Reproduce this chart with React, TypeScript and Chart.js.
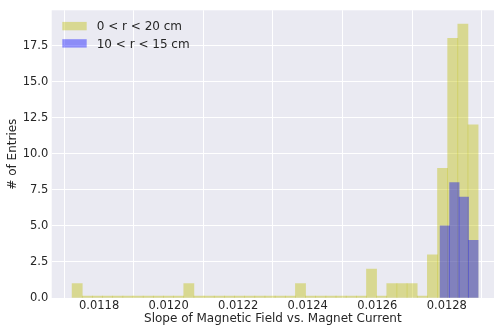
import { useEffect, useRef } from "react";
import { Chart, registerables } from "chart.js";

Chart.register(...registerables);

// Fitted slope of B vs. magnet current, histogrammed for two radial selections.
const wideLabel = "0 < r < 20 cm";
const wideBinStart = 0.0117224;
const wideBinWidth = 0.00002919;
const wideCounts = [
  1, 0, 0, 0, 0, 0, 0, 0, 0, 0,
  0, 1, 0, 0, 0, 0, 0, 0, 0, 0,
  0, 0, 1, 0, 0, 0, 0, 0, 0, 2,
  0, 1, 1, 1, 0, 3, 9, 18, 19, 12,
];

const narrowLabel = "10 < r < 15 cm";
const narrowBinStart = 0.0127807;
const narrowBinWidth = 0.00002732;
const narrowCounts = [5, 8, 7, 4];

const xTicks = [0.0118, 0.012, 0.0122, 0.0124, 0.0126, 0.0128];
const yTicks = [0, 2.5, 5, 7.5, 10, 12.5, 15, 17.5];

const xMin = 0.0116637;
const xMax = 0.0129357;
const yMax = 19.95;

const xTitle = "Slope of Magnetic Field vs. Magnet Current";
const yTitle = "# of Entries";

const TEXT = "#262626";
const FONT = "'DejaVu Sans', sans-serif";
const WIDE_FILL = "rgba(191, 191, 0, 0.4)";
const NARROW_FILL = "rgba(0, 0, 255, 0.4)";

const toBars = (start: number, width: number, counts: number[]) =>
  counts.map((c, i) => ({ x: start + (i + 0.5) * width, y: c }));

const plotBackground = {
  id: "plotBackground",
  beforeDraw(chart: any) {
    const { ctx, chartArea } = chart;
    ctx.save();
    ctx.fillStyle = "#EAEAF2";
    ctx.fillRect(chartArea.left, chartArea.top, chartArea.width, chartArea.height);
    ctx.restore();
  },
};

// Legend in the upper-left corner of the plot area
const insetLegend = {
  id: "insetLegend",
  afterDraw(chart: any) {
    const { ctx, chartArea } = chart;
    const x0 = chartArea.left + 10.6;
    const y0 = chartArea.top + 11.6;
    ctx.save();
    ctx.font = `12px ${FONT}`;
    ctx.textBaseline = "alphabetic";
    ctx.textAlign = "left";
    chart.data.datasets.forEach((ds: any, i: number) => {
      const top = y0 + i * 17.3;
      ctx.fillStyle = ds.backgroundColor;
      ctx.fillRect(x0, top, 24.4, 8.4);
      ctx.fillStyle = TEXT;
      ctx.fillText(ds.label, x0 + 34.4, top + 8.4);
    });
    ctx.restore();
  },
};

export default function App() {
  const canvasRef = useRef<HTMLCanvasElement | null>(null);

  useEffect(() => {
    const canvas = canvasRef.current;
    if (!canvas) return;
    const chart = new Chart(canvas, {
      type: "bar",
      data: {
        datasets: [
          {
            label: wideLabel,
            data: toBars(wideBinStart, wideBinWidth, wideCounts),
            backgroundColor: WIDE_FILL,
            borderWidth: 0,
            barPercentage: 1,
            categoryPercentage: 1,
            minBarLength: 2,
            grouped: false,
            xAxisID: "x",
            order: 1,
          } as any,
          {
            label: narrowLabel,
            data: toBars(narrowBinStart, narrowBinWidth, narrowCounts),
            backgroundColor: NARROW_FILL,
            borderWidth: 0,
            barPercentage: 1,
            categoryPercentage: 1,
            grouped: false,
            xAxisID: "x2",
            order: 0,
          } as any,
        ],
      },
      options: {
        responsive: false,
        animation: false,
        devicePixelRatio: 1,
        layout: { padding: { left: 0, right: 0, top: 8.4, bottom: 0 } },
        plugins: {
          legend: { display: false },
          tooltip: { enabled: false },
        },
        scales: {
          x: {
            type: "linear",
            min: xMin,
            max: xMax,
            offset: false,
            afterFit: (s: any) => {
              s.height = 34;
            },
            afterBuildTicks: (s: any) => {
              s.ticks = xTicks.map((v) => ({ value: v }));
            },
            grid: { color: "#ffffff", lineWidth: 1, drawTicks: false },
            border: { display: false },
            ticks: {
              padding: 1.1,
              color: TEXT,
              font: { family: FONT, size: 11.5 },
              maxRotation: 0,
              callback: (v: any) => Number(v).toFixed(4),
            },
            title: {
              display: true,
              text: xTitle,
              color: TEXT,
              font: { family: FONT, size: 12 },
              padding: { top: 0, bottom: 5.6 },
            },
          },
          x2: {
            type: "linear",
            display: false,
            min: xMin,
            max: xMax,
            offset: false,
            afterBuildTicks: (s: any) => {
              s.ticks = xTicks.map((v) => ({ value: v }));
            },
          },
          y: {
            type: "linear",
            min: 0,
            max: yMax,
            afterFit: (s: any) => {
              s.width = 51.7;
            },
            afterBuildTicks: (s: any) => {
              s.ticks = yTicks.map((v) => ({ value: v }));
            },
            grid: { color: "#ffffff", lineWidth: 1, drawTicks: false },
            border: { display: false },
            ticks: {
              padding: 3.4,
              color: TEXT,
              font: { family: FONT, size: 11.5 },
              callback: (v: any) => Number(v).toFixed(1),
            },
            title: {
              display: true,
              text: yTitle,
              color: TEXT,
              font: { family: FONT, size: 12 },
              padding: { top: 5.35, bottom: 0 },
            },
          },
        },
      } as any,
      plugins: [plotBackground, insetLegend],
    });
    return () => chart.destroy();
  }, []);

  return (
    <div style={{ position: "absolute", left: 0, top: 0, width: 494, height: 332, background: "#ffffff" }}>
      <canvas ref={canvasRef} width={494} height={332} style={{ display: "block" }} />
    </div>
  );
}
